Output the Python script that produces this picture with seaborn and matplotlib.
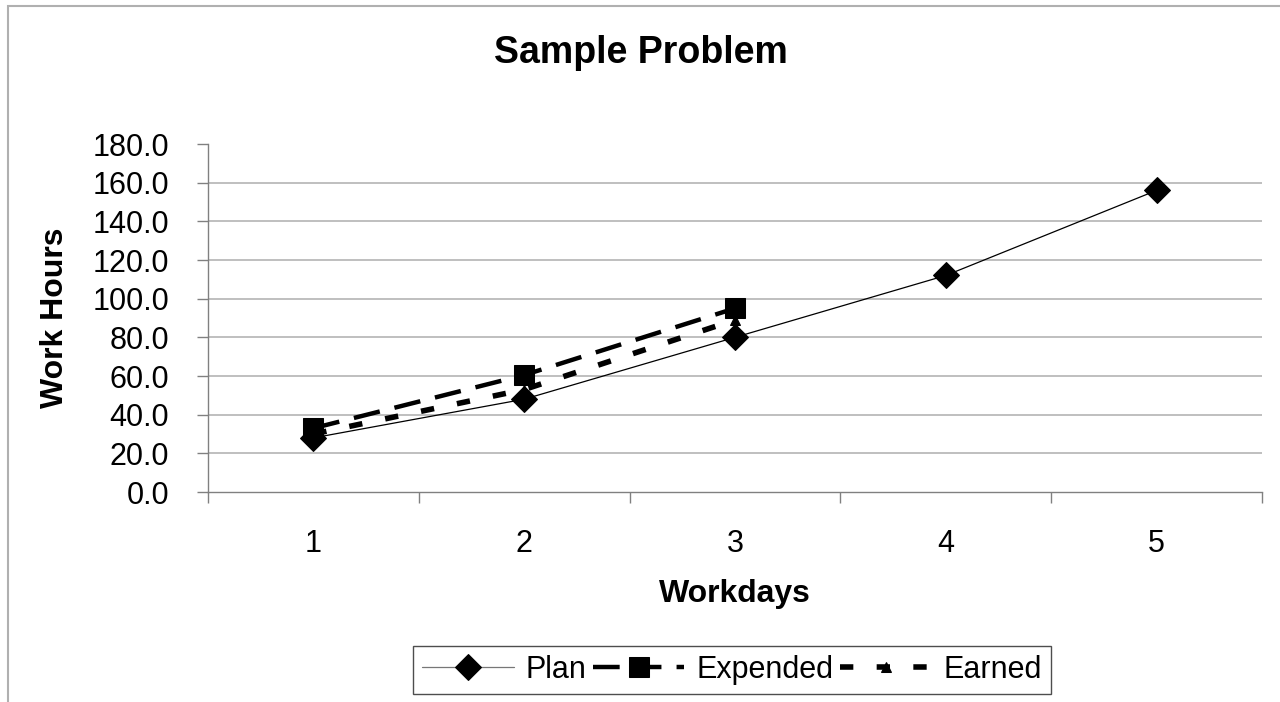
import matplotlib
matplotlib.use("Agg")
import matplotlib.pyplot as plt
from matplotlib.patches import Rectangle
import seaborn as sns
import pandas as pd

workdays = [1, 2, 3, 4, 5]
plan = [28.0, 48.0, 80.0, 112.0, 156.0]
expended_days = [1, 2, 3]
expended = [33.0, 60.5, 95.0]
earned_days = [1, 2, 3]
earned = [30.0, 53.0, 89.0]
y_ticks = [0, 20, 40, 60, 80, 100, 120, 140, 160, 180]

sns.set_theme(style="white")
plt.rcParams['font.family'] = ['Liberation Sans', 'DejaVu Sans']
plt.rcParams['text.color'] = 'black'
plt.rcParams['axes.labelcolor'] = 'black'
plt.rcParams['xtick.color'] = 'black'
plt.rcParams['ytick.color'] = 'black'

fig = plt.figure(figsize=(12.8, 7.02), dpi=100)
ax = fig.add_axes([208/1280, 1 - 492/702, (1262-208)/1280, (492-144)/702])

df_plan = pd.DataFrame({"x": workdays, "y": plan})
df_exp = pd.DataFrame({"x": expended_days, "y": expended})
df_earn = pd.DataFrame({"x": earned_days, "y": earned})

sns.lineplot(data=df_plan, x="x", y="y", ax=ax, color="black", linewidth=0.9,
             marker="D", markersize=13, markeredgecolor="black", label="Plan")
sns.lineplot(data=df_exp, x="x", y="y", ax=ax, color="black", linewidth=3.2,
             marker="s", markersize=15, markeredgecolor="black", label="Expended",
             dashes=False)
ax.lines[-1].set_dashes([6, 3.4])
sns.lineplot(data=df_earn, x="x", y="y", ax=ax, color="black", linewidth=4,
             marker="^", markersize=7, markeredgecolor="black", label="Earned",
             dashes=False)
ax.lines[-1].set_dashes([2.4, 4.2])

ax.set_xlim(0.5, 5.5)
ax.set_ylim(0, 180)
ax.set_yticks(y_ticks)
ax.set_yticklabels([f"{v:.1f}" for v in y_ticks], fontsize=22)
ax.set_xticks(workdays)
ax.set_xticklabels([str(d) for d in workdays], fontsize=22)
ax.set_xticks([0.5, 1.5, 2.5, 3.5, 4.5, 5.5], minor=True)
ax.tick_params(axis="x", which="major", length=0, pad=27, labelcolor="black")
ax.tick_params(axis="x", which="minor", length=8, width=1, color="#808080", direction="out", bottom=True)
ax.tick_params(axis="y", which="major", length=8, width=1, color="#808080", direction="out", left=True, pad=20, labelcolor="black")

for v in y_ticks[1:-1]:
    ax.axhline(v, color="#b4b4b4", linewidth=1.2, zorder=0)

for s in ["top", "right"]:
    ax.spines[s].set_visible(False)
for s in ["left", "bottom"]:
    ax.spines[s].set_color("#808080")
    ax.spines[s].set_linewidth(1)

ax.set_xlabel("Workdays", fontsize=23, fontweight="bold", labelpad=14)
ax.set_ylabel("Work Hours", fontsize=23, fontweight="bold", labelpad=16)
fig.text(641/1280, 1 - 53/702, "Sample Problem", fontsize=27, fontweight="bold",
         ha="center", va="center", color="black")

leg = ax.legend(loc="center", bbox_to_anchor=(732/1280, 1 - 670/702),
                bbox_transform=fig.transFigure, ncol=3, fontsize=22, frameon=True,
                fancybox=False, handlelength=3.0, handletextpad=0.4, columnspacing=0.2,
                borderpad=0.3, numpoints=1)
leg.get_frame().set_edgecolor("#222222")
leg.get_frame().set_linewidth(1.0)
for t in leg.get_texts():
    t.set_color("black")
for h in leg.get_lines():
    h.set_color("black")
leg.get_lines()[0].set_color("#777777")
leg.get_lines()[0].set_markerfacecolor("black")
leg.get_lines()[0].set_markeredgecolor("black")

fig.patches.append(Rectangle((8/1280, -0.1), 1.5, (702-6)/702 + 0.1, transform=fig.transFigure,
                             fill=False, edgecolor="#b0b0b0", linewidth=1.5))

fig.savefig("out.png", dpi=100, facecolor="white")
